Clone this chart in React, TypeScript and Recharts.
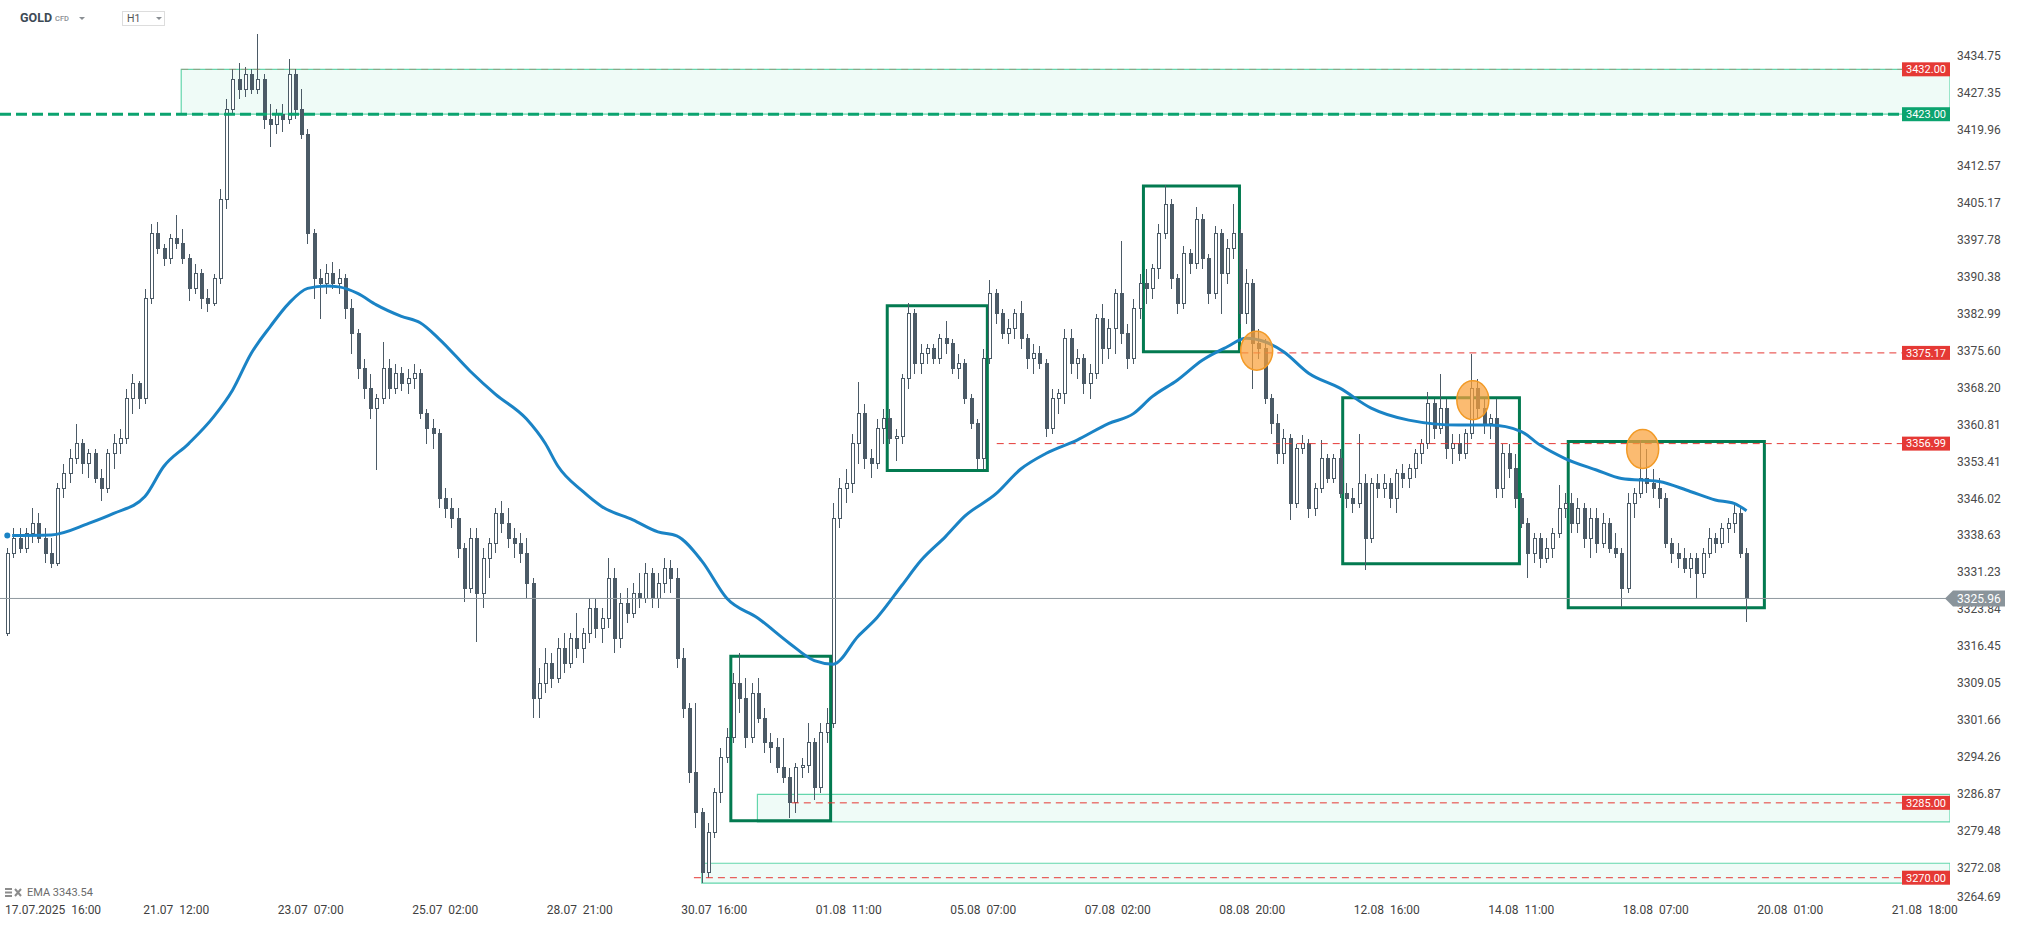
import React from 'react';
import {
  ComposedChart,
  Bar,
  Line,
  XAxis,
  YAxis,
  ReferenceLine,
  ReferenceArea,
  ReferenceDot,
} from 'recharts';

// one candle per 2 hours; bar 0 starts at 17.07 16:00, x unit = trading hour
const FIRST_BAR = -6;

// [open, high, low, close]
const ohlc: number[][] = [
  [3319, 3336, 3318.5, 3335], [3335, 3340, 3334, 3338], [3338, 3340, 3335, 3336], [3336, 3340, 3335, 3339],
  [3339, 3344, 3337, 3341], [3341, 3343, 3337, 3338], [3338, 3340, 3333, 3335], [3335, 3338, 3332, 3333],
  [3333, 3349, 3332.5, 3348], [3348, 3353, 3346, 3351], [3351, 3356, 3349, 3354], [3354, 3361, 3353, 3357],
  [3357, 3358, 3351, 3353], [3353, 3356, 3350, 3355], [3355, 3356, 3349, 3350], [3350, 3352, 3345.5, 3348],
  [3348, 3356, 3347, 3355], [3355, 3359, 3352, 3357], [3357, 3360, 3355, 3358], [3358, 3368, 3357, 3366],
  [3366, 3371, 3363, 3369], [3369, 3369.5, 3364, 3366], [3366, 3388, 3365, 3386], [3386, 3401, 3385, 3399],
  [3399, 3401.5, 3395, 3396], [3396, 3397, 3392.5, 3394], [3394, 3399, 3393, 3398], [3398, 3402.8, 3396, 3397],
  [3397, 3400, 3393, 3394], [3394, 3395, 3385.5, 3388], [3388, 3393, 3387, 3391], [3391, 3392, 3384, 3386],
  [3386, 3388, 3383.4, 3385], [3385, 3391, 3384.5, 3390], [3390, 3408, 3389, 3406], [3406, 3426, 3404, 3424],
  [3424, 3432, 3423, 3430], [3430, 3433.2, 3426, 3428], [3428, 3432.5, 3426.5, 3431], [3431, 3432, 3427, 3428],
  [3428, 3439, 3427, 3430], [3430, 3431, 3420, 3422], [3422, 3425, 3416.5, 3421], [3421, 3424, 3419, 3423],
  [3423, 3425, 3419.5, 3422], [3422, 3434, 3421, 3431], [3431, 3432, 3422, 3424], [3424, 3428, 3418, 3419],
  [3419, 3420, 3397, 3399], [3399, 3400, 3386, 3390], [3390, 3392, 3382, 3389], [3389, 3393, 3387, 3391],
  [3391, 3393.4, 3388, 3389], [3389, 3392, 3387, 3390], [3390, 3391, 3382, 3384], [3384, 3386, 3375, 3379],
  [3379, 3380, 3370, 3372], [3372, 3374, 3366, 3368], [3368, 3371, 3362, 3364], [3364, 3367, 3351.7, 3366],
  [3366, 3377.4, 3365, 3372], [3372, 3374, 3366, 3368], [3368, 3373, 3367, 3371], [3371, 3372.4, 3367.5, 3369],
  [3369, 3372, 3367, 3370], [3370, 3373, 3368, 3371], [3371, 3372, 3362, 3363], [3363, 3364, 3357, 3360],
  [3360, 3362, 3356, 3359], [3359, 3360, 3344, 3346], [3346, 3348, 3342, 3344], [3344, 3346, 3340, 3342],
  [3342, 3344, 3334, 3336], [3336, 3337, 3325.3, 3328], [3328, 3340, 3327, 3338], [3338, 3340, 3317.3, 3327],
  [3327, 3336, 3324, 3334], [3334, 3338, 3330, 3337], [3337, 3344, 3335, 3343], [3343, 3345.4, 3339, 3341],
  [3341, 3344, 3336, 3338], [3338, 3340, 3334, 3337], [3337, 3339, 3333, 3335], [3335, 3338, 3326, 3329],
  [3329, 3330, 3302, 3306], [3306, 3312, 3302, 3309], [3309, 3316, 3307, 3313], [3313, 3315, 3308, 3310],
  [3310, 3318, 3309, 3316], [3316, 3319, 3311, 3313], [3313, 3319, 3312, 3318], [3318, 3323, 3314, 3316],
  [3316, 3320, 3313, 3319], [3319, 3326, 3317, 3324], [3324, 3326, 3318, 3320], [3320, 3324, 3317, 3322],
  [3322, 3334, 3320, 3330], [3330, 3332, 3315, 3318], [3318, 3327, 3316, 3325], [3325, 3328, 3321, 3323],
  [3323, 3329, 3322, 3327], [3327, 3331, 3324, 3326], [3326, 3333, 3325, 3331], [3331, 3332, 3324, 3326],
  [3326, 3331, 3324, 3329], [3329, 3334, 3327, 3332], [3332, 3333.7, 3327, 3330], [3330, 3332, 3312, 3314],
  [3314, 3316, 3302, 3304], [3304, 3305, 3289, 3291], [3291, 3305, 3280, 3283], [3283, 3284, 3269, 3271],
  [3271, 3281, 3270, 3279], [3279, 3288, 3278, 3287], [3287, 3296, 3285, 3294], [3294, 3300, 3293, 3298],
  [3298, 3311, 3297, 3309], [3309, 3315, 3303, 3306], [3306, 3310, 3296, 3298], [3298, 3309, 3297, 3307],
  [3307, 3310, 3301, 3302], [3302, 3304, 3295, 3297], [3297, 3299, 3293, 3296], [3296, 3298, 3291, 3292],
  [3292, 3298, 3289, 3290], [3290, 3292, 3282, 3285], [3285, 3293, 3283, 3292], [3292, 3294, 3290, 3292.5],
  [3292.5, 3301, 3291, 3297], [3297, 3298, 3285.5, 3288], [3288, 3301, 3287, 3299], [3299, 3304, 3297, 3301],
  [3301, 3345, 3300, 3342], [3342, 3350, 3340, 3348], [3348, 3352, 3345, 3349], [3349, 3359, 3347, 3357],
  [3357, 3369.3, 3353, 3363], [3363, 3365, 3352, 3354], [3354, 3356, 3350, 3353], [3353, 3362, 3352, 3360],
  [3360, 3364, 3357, 3362], [3362, 3364, 3357, 3358], [3358, 3360, 3353.5, 3358.5], [3358.5, 3371, 3357, 3370],
  [3370, 3385.2, 3368, 3383], [3383, 3384, 3371, 3373], [3373, 3377, 3371, 3375], [3375, 3377, 3373, 3376],
  [3376, 3377, 3373, 3374], [3374, 3379, 3373, 3378], [3378, 3381.5, 3375, 3377], [3377, 3378, 3371, 3372],
  [3372, 3375, 3370, 3373], [3373, 3374, 3365, 3366], [3366, 3367, 3360, 3361], [3361, 3362, 3352, 3354],
  [3354, 3376, 3352, 3374], [3374, 3389.7, 3373, 3387], [3387, 3388, 3381, 3383], [3383, 3384, 3378, 3379],
  [3379, 3382, 3377, 3380], [3380, 3384, 3378, 3383], [3383, 3385.5, 3376, 3378], [3378, 3379, 3372, 3374],
  [3374, 3377, 3371, 3375], [3375, 3376.5, 3372, 3373], [3373, 3374, 3358.4, 3360], [3360, 3368, 3359, 3366],
  [3366, 3368, 3363, 3367], [3367, 3380, 3365, 3378], [3378, 3380, 3371, 3373], [3373, 3376, 3370, 3374],
  [3374, 3375, 3367, 3369], [3369, 3373, 3366, 3371], [3371, 3383, 3370, 3382], [3382, 3385, 3373, 3376],
  [3376, 3382, 3374, 3380], [3380, 3388, 3375, 3387], [3387, 3397.5, 3377, 3379], [3379, 3381, 3372, 3374],
  [3374, 3386, 3373, 3384], [3384, 3391, 3382, 3389], [3389, 3392, 3385, 3388], [3388, 3393, 3386, 3392],
  [3392, 3401, 3390, 3399], [3399, 3408.8, 3398, 3405], [3405, 3406, 3388, 3390], [3390, 3391, 3383, 3385],
  [3385, 3396.5, 3384, 3395], [3395, 3396, 3391, 3393], [3393, 3404.5, 3392, 3402], [3402, 3403, 3392, 3394],
  [3394, 3395, 3385, 3387], [3387, 3400.5, 3386, 3399], [3399, 3400, 3383, 3391], [3391, 3398, 3389, 3396],
  [3396, 3405, 3394, 3399], [3399, 3400, 3381, 3383], [3383, 3392, 3381, 3389], [3389, 3390, 3368, 3377],
  [3377, 3380, 3374, 3376], [3376, 3378, 3365, 3366], [3366, 3367, 3359, 3361], [3361, 3363, 3353, 3355],
  [3355, 3360, 3353, 3358], [3358, 3359, 3341.7, 3345], [3345, 3357, 3344, 3356], [3356, 3358.7, 3355, 3357],
  [3357, 3358, 3342, 3344], [3344, 3349, 3342.5, 3348], [3348, 3357.7, 3347, 3354], [3354, 3355, 3349, 3350],
  [3350, 3355, 3349, 3354], [3354, 3356, 3346, 3347], [3347, 3349, 3344, 3346], [3346, 3348, 3343, 3345],
  [3345, 3359, 3344, 3349], [3349, 3351, 3331.7, 3338], [3338, 3350, 3337, 3349], [3349, 3351, 3346, 3348],
  [3348, 3351, 3346, 3349], [3349, 3350, 3344, 3346], [3346, 3352, 3343, 3351], [3351, 3353, 3348, 3350],
  [3350, 3353, 3348, 3352], [3352, 3356, 3350, 3355], [3355, 3358, 3353, 3357], [3357, 3367.4, 3356, 3365],
  [3365, 3366, 3358, 3360], [3360, 3371, 3359, 3364], [3364, 3366, 3354, 3356], [3356, 3359, 3353, 3357],
  [3357, 3359, 3353.5, 3355], [3355, 3360, 3354, 3359], [3359, 3375, 3358, 3368], [3368, 3370, 3362, 3364],
  [3364, 3366, 3359, 3361], [3361, 3363, 3358, 3362], [3362, 3366, 3346, 3348], [3348, 3357, 3346, 3355],
  [3355, 3357, 3350, 3352], [3352, 3355, 3344, 3346], [3346, 3347, 3340, 3341], [3341, 3342, 3330, 3335],
  [3335, 3339, 3333, 3338], [3338, 3339, 3332, 3334], [3334, 3338, 3333, 3336], [3336, 3340, 3334, 3339],
  [3339, 3348.7, 3338, 3344], [3344, 3347, 3342, 3345], [3345, 3347, 3339, 3341], [3341, 3346, 3339, 3344],
  [3344, 3345, 3336, 3338], [3338, 3344, 3334, 3342], [3342, 3344, 3335, 3337], [3337, 3343, 3336, 3341],
  [3341, 3342, 3335, 3336], [3336, 3339, 3334, 3335], [3335, 3336, 3324.3, 3328], [3328, 3347, 3327, 3345],
  [3345, 3348, 3342, 3347], [3347, 3357.7, 3346, 3350], [3350, 3356, 3347, 3349], [3349, 3352, 3346, 3348],
  [3348, 3350, 3344, 3346], [3346, 3347, 3336, 3337], [3337, 3338, 3333, 3335], [3335, 3337, 3332, 3334],
  [3334, 3336, 3331, 3332], [3332, 3335, 3330, 3334], [3334, 3335, 3326, 3331], [3331, 3336, 3330, 3335],
  [3335, 3340, 3334, 3338], [3338, 3339, 3335, 3337], [3337, 3341, 3336, 3340], [3340, 3342, 3337, 3341],
  [3341, 3345, 3339, 3343], [3343, 3344, 3334, 3335], [3335, 3336, 3321.3, 3325.96],
];

// EMA at some bars; the line joins them
const emaBars = [
  -6, 1, 7, 11, 16, 19, 23, 27, 30, 33, 36, 39, 42, 45, 47, 50, 53, 57, 60, 63, 68, 72, 77, 80, 82, 86, 89, 94,
  98, 101, 105, 109, 114, 119, 123, 126, 130, 133, 137, 140, 144, 147, 152, 156, 160, 165, 170, 174, 177, 181,
  185, 189, 192, 195, 198, 202, 207, 212, 218, 226, 231, 236, 239, 243, 248, 252, 258, 263, 267, 270, 272,
];
const emaValues = [
  3338.6, 3338.7, 3341, 3343, 3346.4, 3352.4, 3357, 3362.4, 3367.7, 3375.1, 3380.4, 3385.1, 3388.1, 3388.6,
  3388.4, 3387.1, 3384.8, 3382.5, 3381.2, 3378, 3371.5, 3366.9, 3361.9, 3357, 3352.5, 3347.4, 3344.4, 3341.7,
  3339.3, 3338.5, 3333.5, 3326, 3322, 3317, 3313.5, 3312.8, 3318.4, 3322.1, 3328.6, 3333.5, 3338.4, 3342.4,
  3346.9, 3351.9, 3355, 3357.7, 3361, 3363, 3366.4, 3369.7, 3373.7, 3376.4, 3378.1, 3377.4, 3375.4, 3371.1,
  3368.1, 3364.1, 3361.7, 3360.7, 3360.7, 3359.4, 3356.7, 3354, 3351.7, 3350, 3349.4, 3347.4, 3345.7, 3345,
  3343.54,
];

const timeTicks = [0, 43, 86, 129, 172, 215, 258, 301, 344, 387, 430, 473, 516, 559, 602];
const timeLabels = [
  '17.07.2025  16:00', '21.07  12:00', '23.07  07:00', '25.07  02:00', '28.07  21:00', '30.07  16:00',
  '01.08  11:00', '05.08  07:00', '07.08  02:00', '08.08  20:00', '12.08  16:00', '14.08  11:00',
  '18.08  07:00', '20.08  01:00', '21.08  18:00',
];

const priceTicks = [
  3264.69, 3272.08, 3279.48, 3286.87, 3294.26, 3301.66, 3309.05, 3316.45, 3323.84, 3331.23, 3338.63, 3346.02,
  3353.41, 3360.81, 3368.2, 3375.6, 3382.99, 3390.38, 3397.78, 3405.17, 3412.57, 3419.96, 3427.35, 3434.75,
];
const LAST_PRICE = 3325.96;
const EMA_LAST = 3343.54;

// horizontal levels: price and the hour where the dashed line begins
const levelPrices = [3432.0, 3423.0, 3375.17, 3356.99, 3285.0, 3270.0];
const levelStarts = [44.6, -13.33, 383.5, 305.3, 239.8, 208.5];
const levelKinds = ['faint', 'green', 'red', 'red', 'red', 'red'];

// zones: [from hour, low, high]
const zones = [
  [44.6, 3423, 3432],
  [228.8, 3281.2, 3286.7],
  [211, 3268.9, 3272.9],
];
// boxes: [from hour, to hour, low, high]
const boxes = [
  [220.3, 252.2, 3281.4, 3314.4],
  [270.3, 302.3, 3351.6, 3384.6],
  [352.2, 382.9, 3375.4, 3408.6],
  [415.9, 472.4, 3332.9, 3366.2],
  [488.0, 550.7, 3324.1, 3357.4],
];
// orange markers: [hour, price]
const marks = [
  [388.4, 3375.6],
  [457.5, 3365.7],
  [511.8, 3355.9],
];

const X_MIN = -13.33;
const X_MAX = 610.04;
const Y_MIN = 3264.53;
const Y_MAX = 3445.89;

const CANDLE = '#4b5a66';
const RED = '#e53935';
const GREEN = '#0ba36f';

const rows = ohlc.map(([o, hi, lo, c], i) => {
  const bar = FIRST_BAR + i;
  const j = emaBars.indexOf(bar);
  return { t: bar * 2 + 1, o, hi, lo, c, range: [lo, hi], ema: j >= 0 ? emaValues[j] : null };
});

function Candle(props: any) {
  const { x, y, width, height, payload } = props;
  if (!payload || height == null) return null;
  const top = Math.min(y, y + height);
  const span = Math.abs(height);
  const { o, hi, lo, c } = payload;
  const k = span / (hi - lo);
  const yo = top + (hi - o) * k;
  const yc = top + (hi - c) * k;
  const cx = Math.round(x + width / 2) + 0.5;
  const bTop = Math.min(yo, yc);
  const bH = Math.max(1, Math.abs(yo - yc));
  const up = c >= o;
  return (
    <g shapeRendering="crispEdges">
      <line x1={cx} x2={cx} y1={top} y2={top + span} stroke={CANDLE} strokeWidth={1} />
      <rect x={cx - 1.5} y={bTop} width={3} height={bH} fill={up ? '#ffffff' : CANDLE} stroke={CANDLE} strokeWidth={1} />
    </g>
  );
}

function TimeTick(props: any) {
  const { x, payload } = props;
  const i = timeTicks.indexOf(payload.value);
  const first = i === 0;
  return (
    <text
      x={first ? 5 : x}
      y={910}
      dy="0.35em"
      textAnchor={first ? 'start' : 'middle'}
      fontSize={12}
      fill="#3f3f3f"
      style={{ whiteSpace: 'pre' }}
    >
      {timeLabels[i]}
    </text>
  );
}

function PriceTick(props: any) {
  const { y, payload } = props;
  const v = payload.value;
  if (v === LAST_PRICE) {
    return (
      <g>
        <path d={`M1945,${y} L1953,${y - 8} L2005,${y - 8} L2005,${y + 8} L1953,${y + 8} Z`} fill="#8a949b" />
        <text x={1957} y={y} dy="0.35em" fontSize={12} fill="#ffffff">
          {v.toFixed(2)}
        </text>
      </g>
    );
  }
  return (
    <text x={1957} y={Math.min(y, 897)} dy="0.35em" fontSize={12} fill="#4a4a4a">
      {v.toFixed(2)}
    </text>
  );
}

function LevelTag(props: any) {
  const { viewBox, text, color } = props;
  if (!viewBox) return null;
  const right = viewBox.x + viewBox.width;
  const y = viewBox.y;
  return (
    <g>
      <rect x={right - 48} y={y - 7} width={48} height={14} fill={color} />
      <text x={right - 24} y={y} dy="0.35em" textAnchor="middle" fontSize={11} fill="#ffffff">
        {text}
      </text>
    </g>
  );
}

function Marker(props: any) {
  const { cx, cy } = props;
  return (
    <ellipse cx={cx} cy={cy} rx={16} ry={19.5} fill="#f9a13a" fillOpacity={0.72} stroke="#f29a26" strokeWidth={1.5} />
  );
}

export default function App() {
  return (
    <div
      style={{
        position: 'fixed',
        left: 0,
        top: 0,
        width: 2017,
        height: 928,
        background: '#ffffff',
        fontFamily: 'Roboto, sans-serif',
      }}
    >
      <ComposedChart
        width={2017}
        height={928}
        data={rows}
        margin={{ top: 0, right: 0, bottom: 0, left: 0 }}
        style={{ fontFamily: 'Roboto, sans-serif' }}
      >
        <XAxis
          dataKey="t"
          type="number"
          domain={[X_MIN, X_MAX]}
          allowDataOverflow
          ticks={timeTicks}
          interval={0}
          tick={<TimeTick />}
          axisLine={false}
          tickLine={false}
          height={23}
        />
        <YAxis
          orientation="right"
          type="number"
          domain={[Y_MIN, Y_MAX]}
          allowDataOverflow
          ticks={[...priceTicks, LAST_PRICE]}
          interval={0}
          tick={<PriceTick />}
          axisLine={false}
          tickLine={false}
          width={67}
        />

        {zones.map(([x1, lo, hi], i) => (
          <ReferenceArea
            key={`z${i}`}
            x1={x1}
            x2={X_MAX}
            y1={lo}
            y2={hi}
            fill="#52d3a3"
            fillOpacity={0.09}
            stroke="#63d6ac"
            strokeWidth={1.2}
            ifOverflow="hidden"
          />
        ))}

        {levelPrices.map((p, i) => (
          <ReferenceLine
            key={`l${i}`}
            segment={[
              { x: levelStarts[i], y: p },
              { x: X_MAX, y: p },
            ]}
            stroke={levelKinds[i] === 'green' ? GREEN : RED}
            strokeOpacity={levelKinds[i] === 'faint' ? 0.35 : 1}
            strokeWidth={levelKinds[i] === 'green' ? 3 : 1}
            strokeDasharray={levelKinds[i] === 'green' ? '11 5' : '7 5'}
          />
        ))}

        <ReferenceLine y={LAST_PRICE} stroke="#8f989e" strokeWidth={1} />

        <Bar dataKey="range" barSize={4} shape={<Candle />} isAnimationActive={false} />
        <Line
          dataKey="ema"
          type="monotone"
          stroke="#1a83c5"
          strokeWidth={3}
          dot={false}
          connectNulls
          isAnimationActive={false}
        />

        {boxes.map(([x1, x2, lo, hi], i) => (
          <ReferenceArea
            key={`b${i}`}
            x1={x1}
            x2={x2}
            y1={lo}
            y2={hi}
            fill="none"
            fillOpacity={0}
            stroke="#037a50"
            strokeWidth={3}
          />
        ))}

        {marks.map(([x, y], i) => (
          <ReferenceDot key={`m${i}`} x={x} y={y} r={18} shape={<Marker />} />
        ))}

        {levelPrices.map((p, i) => (
          <ReferenceLine
            key={`t${i}`}
            y={p}
            stroke="none"
            label={<LevelTag text={p.toFixed(2)} color={levelKinds[i] === 'green' ? GREEN : RED} />}
          />
        ))}
      </ComposedChart>

      {/* header */}
      <div style={{ position: 'absolute', left: 20, top: 10, fontSize: 12.5, fontWeight: 700, color: '#3d4a55' }}>GOLD</div>
      <div style={{ position: 'absolute', left: 55, top: 14, fontSize: 7.5, fontWeight: 500, color: '#8a8f94' }}>CFD</div>
      <div
        style={{
          position: 'absolute',
          left: 79,
          top: 17,
          width: 0,
          height: 0,
          borderLeft: '3px solid transparent',
          borderRight: '3px solid transparent',
          borderTop: '3px solid #8a8f94',
        }}
      />
      <div
        style={{
          position: 'absolute',
          left: 122,
          top: 11,
          width: 43,
          height: 15,
          border: '1px solid #dddddd',
          boxSizing: 'border-box',
        }}
      />
      <div style={{ position: 'absolute', left: 127, top: 12, fontSize: 10.5, color: '#555555' }}>H1</div>
      <div
        style={{
          position: 'absolute',
          left: 156,
          top: 17,
          width: 0,
          height: 0,
          borderLeft: '3px solid transparent',
          borderRight: '3px solid transparent',
          borderTop: '3px solid #8a8f94',
        }}
      />

      {/* indicator legend */}
      <svg style={{ position: 'absolute', left: 5, top: 887 }} width={20} height={12}>
        <rect x={0} y={1} width={7} height={2} fill="#8c8c8c" />
        <rect x={0} y={4.5} width={7} height={2} fill="#8c8c8c" />
        <rect x={0} y={8} width={7} height={2} fill="#8c8c8c" />
        <path d="M10,2 L16,9 M16,2 L10,9" stroke="#8c8c8c" strokeWidth={2} />
      </svg>
      <div style={{ position: 'absolute', left: 27, top: 886, fontSize: 11, color: '#6b6b6b' }}>
        EMA {EMA_LAST.toFixed(2)}
      </div>
    </div>
  );
}
